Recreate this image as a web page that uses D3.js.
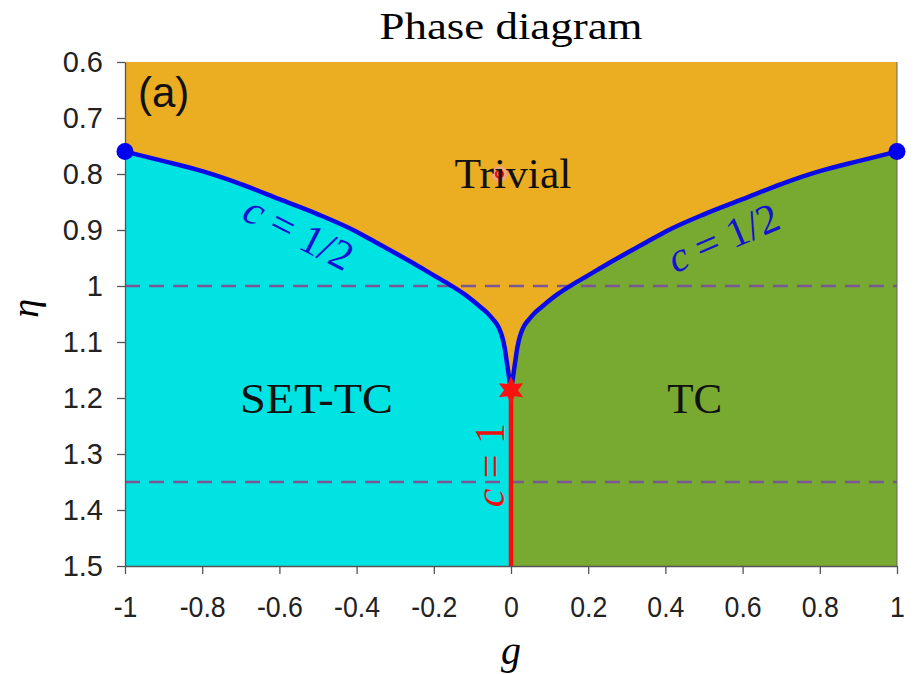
<!DOCTYPE html>
<html>
<head>
<meta charset="utf-8">
<script src="https://d3js.org/d3.v7.min.js"></script>
<style>
  body { margin: 0; background: white; }
  text { font-family: "Liberation Sans", Arial, sans-serif; }
  .serif { font-family: "Liberation Serif", "DejaVu Serif", serif; }
</style>
</head>
<body>
<div id="chart"></div>
<script>
// phase boundary (c = 1/2), symmetric in g
var gHalf   = [0, 0.004, 0.008, 0.012, 0.016, 0.02, 0.025, 0.03, 0.036, 0.045, 0.06, 0.08, 0.12, 0.158, 0.2, 0.254, 0.3, 0.34, 0.4, 0.5, 0.6, 0.7, 0.8, 0.9, 1.0]
var etaHalf = [1.186, 1.168, 1.149, 1.130, 1.112, 1.098, 1.086, 1.077, 1.069, 1.061, 1.049, 1.037, 1.015, 0.998, 0.981, 0.959, 0.941, 0.926, 0.903, 0.872, 0.845, 0.818, 0.795, 0.777, 0.76]
var xTicks = [-1, -0.8, -0.6, -0.4, -0.2, 0, 0.2, 0.4, 0.6, 0.8, 1]
var yTicks = [0.6, 0.7, 0.8, 0.9, 1, 1.1, 1.2, 1.3, 1.4, 1.5]
var dashedEta = [1, 1.35]
var endPoints = [[-1, 0.76], [1, 0.76]]
var criticalPoint = [0, 1.186]
var trivialPoint = [-0.03, 0.8]

var W = 915, H = 674
var margin = { top: 62, right: 18, bottom: 108, left: 125 }
var width = W - margin.left - margin.right,
    height = H - margin.top - margin.bottom

var svg = d3.select("#chart").append("svg")
    .attr("width", W).attr("height", H)

svg.append("text").attr("class", "serif")
    .attr("x", margin.left + width / 2).attr("y", 39)
    .attr("text-anchor", "middle").style("font-size", "38px")
    .attr("textLength", 263).attr("lengthAdjust", "spacingAndGlyphs")
    .text("Phase diagram")

var g = svg.append("g").attr("transform", "translate(" + margin.left + "," + margin.top + ")")

var x = d3.scaleLinear().domain([-1, 1]).range([0, width])
var y = d3.scaleLinear().domain([0.6, 1.5]).range([0, height])

// full boundary, left half mirrored
var boundary = []
for (var i = gHalf.length - 1; i > 0; i--) boundary.push({ g: -gHalf[i], eta: etaHalf[i] })
for (var i = 0; i < gHalf.length; i++) boundary.push({ g: gHalf[i], eta: etaHalf[i] })

// phase regions
g.append("rect").attr("x", x(-1)).attr("y", 0).attr("width", x(0) - x(-1)).attr("height", height)
    .attr("fill", "#00E3E3")
g.append("rect").attr("x", x(0)).attr("y", 0).attr("width", x(1) - x(0)).attr("height", height)
    .attr("fill", "#78AA32")
g.append("path").datum(boundary)
    .attr("fill", "#EBAE23")
    .attr("d", d3.area().curve(d3.curveMonotoneX)
        .x(function (d) { return x(d.g) })
        .y0(y(0.6))
        .y1(function (d) { return y(d.eta) }))

// dashed reference lines
g.selectAll(".dash").data(dashedEta).enter().append("line")
    .attr("x1", 0).attr("x2", width)
    .attr("y1", function (d) { return y(d) }).attr("y2", function (d) { return y(d) })
    .attr("stroke", "#7A5693").attr("stroke-width", 2.5).attr("stroke-dasharray", "15,9")

// c = 1/2 line
g.append("path").datum(boundary)
    .attr("fill", "none").attr("stroke", "#0A0AE6").attr("stroke-width", 4.5)
    .attr("d", d3.line().curve(d3.curveMonotoneX)
        .x(function (d) { return x(d.g) })
        .y(function (d) { return y(d.eta) }))

// c = 1 line
g.append("line")
    .attr("x1", x(0)).attr("x2", x(0))
    .attr("y1", y(criticalPoint[1])).attr("y2", y(1.5))
    .attr("stroke", "#FF0A0A").attr("stroke-width", 4.5)

// axes
var yAxis = g.append("g")
    .call(d3.axisLeft(y).tickValues(yTicks).tickSize(8).tickSizeOuter(0).tickPadding(14)
        .tickFormat(function (d) { return String(+d.toFixed(1)) }))
var xAxis = g.append("g").attr("transform", "translate(0," + height + ")")
    .call(d3.axisBottom(x).tickValues(xTicks).tickSize(8).tickSizeOuter(0).tickPadding(22)
        .tickFormat(function (d) { return String(+d.toFixed(1)) }))
;[yAxis, xAxis].forEach(function (a) {
    a.selectAll("text").style("font-size", "29px").style("fill", "#222")
        .style("font-family", "'Liberation Sans', Arial, sans-serif")
    a.selectAll("line, path").attr("stroke", "#555").attr("stroke-width", 1.3)
})
xAxis.selectAll("text").attr("textLength", function () { return this.getComputedTextLength() * 0.92 })
    .attr("lengthAdjust", "spacingAndGlyphs")
g.append("line").attr("x1", width).attr("x2", width).attr("y1", 0).attr("y2", height)
    .attr("stroke", "#666").attr("stroke-width", 1)

// end points
g.selectAll(".endpt").data(endPoints).enter().append("circle")
    .attr("cx", function (d) { return x(d[0]) }).attr("cy", function (d) { return y(d[1]) })
    .attr("r", 8.5).attr("fill", "#0000F0")

// critical point: six-pointed star
var starPts = d3.range(12).map(function (k) { return [k * Math.PI / 6, k % 2 ? 7 : 14] })
g.append("path")
    .attr("transform", "translate(" + x(criticalPoint[0]) + "," + y(criticalPoint[1]) + ")")
    .attr("d", d3.lineRadial().curve(d3.curveLinearClosed)(starPts))
    .attr("fill", "#FF1010")

// small marker in the trivial phase
g.append("circle").attr("cx", x(trivialPoint[0])).attr("cy", y(trivialPoint[1]))
    .attr("r", 8).attr("fill", "#F5A0A0").attr("opacity", 0.7)
g.append("circle").attr("cx", x(trivialPoint[0])).attr("cy", y(trivialPoint[1]))
    .attr("r", 3.5).attr("fill", "none").attr("stroke", "#E81010").attr("stroke-width", 2.2)

// phase labels
function label(txt, gx, eta, size, len) {
    return g.append("text").attr("class", "serif")
        .attr("x", x(gx)).attr("y", y(eta))
        .attr("text-anchor", "middle").attr("dominant-baseline", "central")
        .style("font-size", size + "px").style("fill", "#111")
        .attr("textLength", len).attr("lengthAdjust", "spacingAndGlyphs")
        .text(txt)
}
label("Trivial", 0.005, 0.8, 42, 117)
label("SET-TC", -0.504, 1.2, 43, 153)
label("TC", 0.476, 1.2, 43, 55)

function cLabel(txt, gx, eta, angle, color) {
    var t = g.append("text").attr("class", "serif")
        .attr("transform", "translate(" + x(gx) + "," + y(eta) + ") rotate(" + angle + ")")
        .attr("text-anchor", "middle").attr("dominant-baseline", "central")
        .style("font-size", "42px").style("fill", color)
    t.append("tspan").style("font-style", "italic").text("c")
    t.append("tspan").text(" = " + txt)
}
cLabel("1/2", -0.55, 0.905, 27, "#1212D0")
cLabel("1/2", 0.55, 0.914, -23, "#1212D0")
cLabel("1", -0.054, 1.32, -90, "#E81010")

// panel tag
g.append("text").attr("x", 13).attr("y", 45).style("font-size", "42px").style("fill", "#111").text("(a)")

// axis titles
svg.append("text").attr("class", "serif")
    .attr("x", margin.left + width / 2).attr("y", 664)
    .attr("text-anchor", "middle").style("font-size", "40px").style("font-style", "italic")
    .text("g")
svg.append("text").attr("class", "serif")
    .attr("transform", "translate(38," + (margin.top + y(1.04)) + ") rotate(-90)")
    .attr("text-anchor", "middle").style("font-size", "38px").style("font-style", "italic")
    .text("η")
</script>
</body>
</html>
